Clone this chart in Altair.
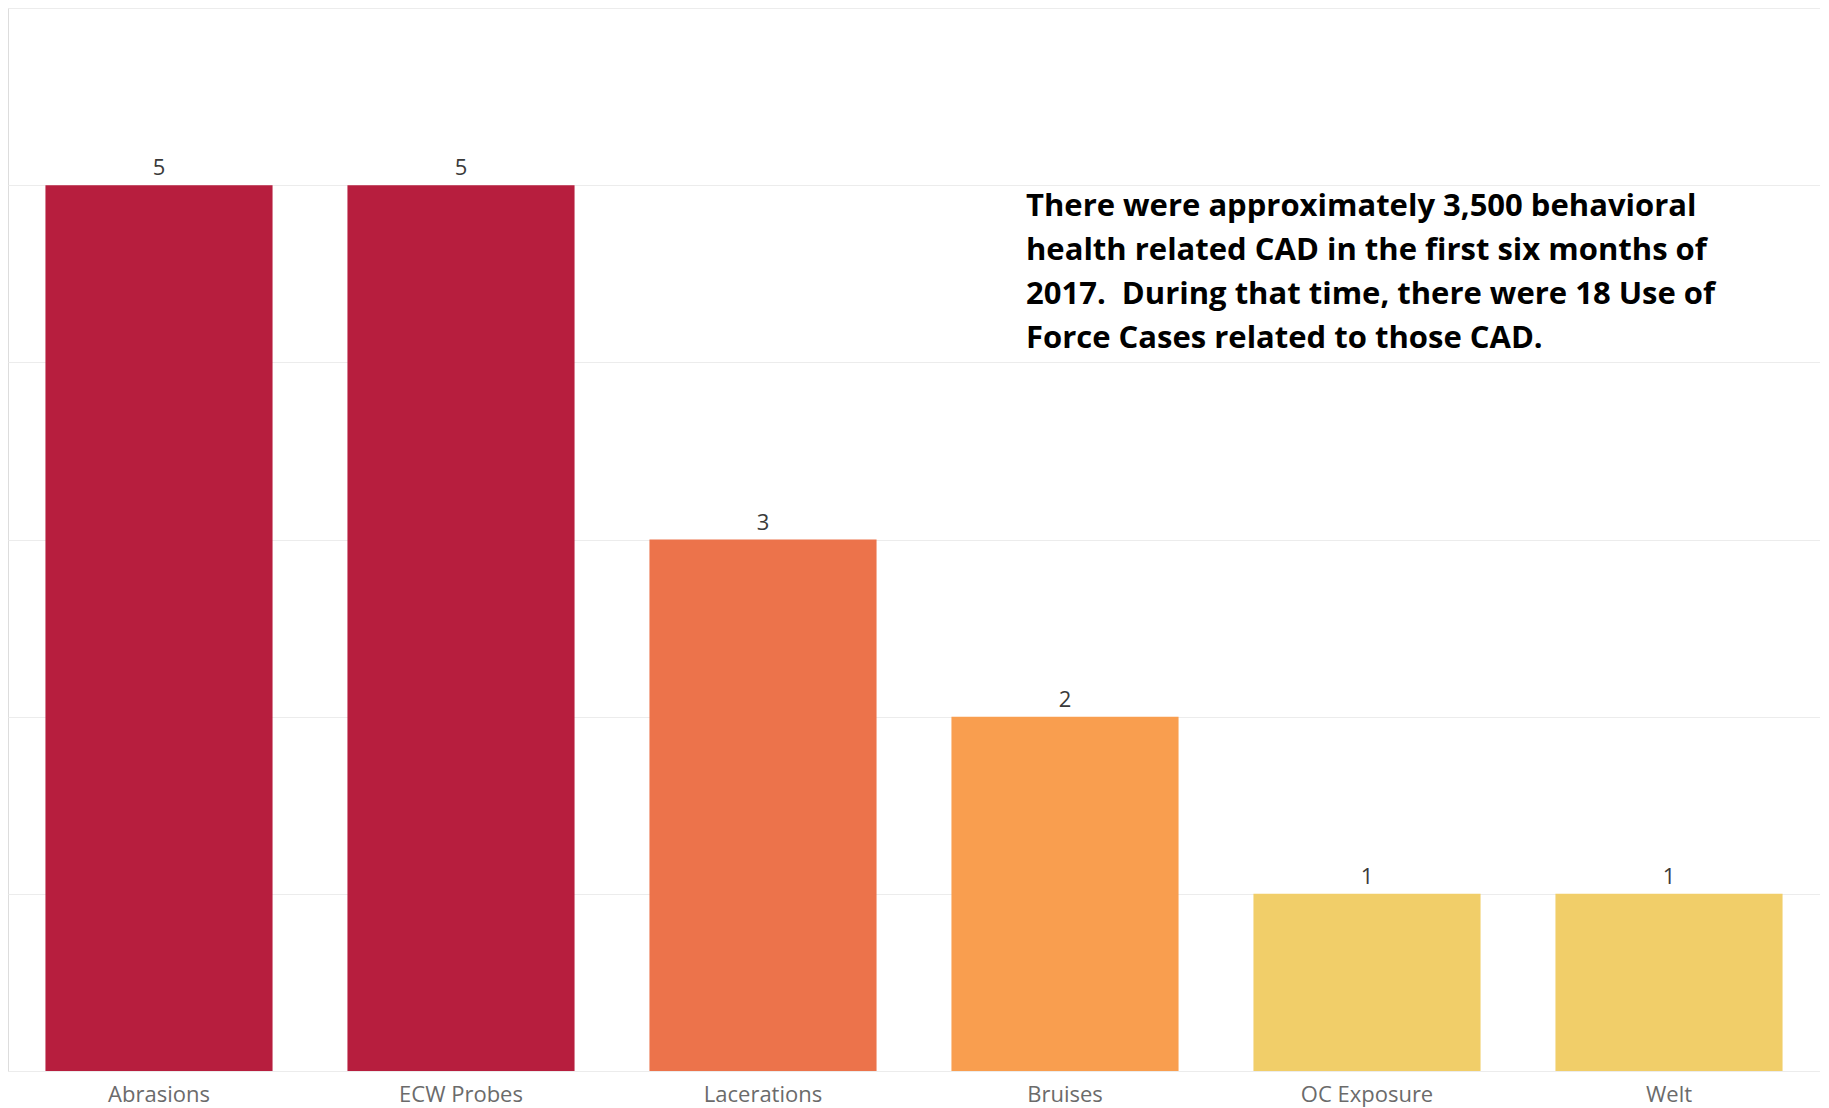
import altair as alt
import pandas as pd

categories = ["Abrasions", "ECW Probes", "Lacerations", "Bruises", "OC Exposure", "Welt"]
counts = [5, 5, 3, 2, 1, 1]
colors = ["#B71E3E", "#B71E3E", "#EC734B", "#F99E4F", "#F1CE69", "#F1CE69"]

note_lines = [
    "There were approximately 3,500 behavioral",
    "health related CAD in the first six months of",
    "2017.\u00a0 During that time, there were 18 Use of",
    "Force Cases related to those CAD.",
]

df = pd.DataFrame({"cat": categories, "n": counts, "col": colors})

x = alt.X("cat:N", sort=categories, title=None,
          scale=alt.Scale(paddingInner=0.248, paddingOuter=0.124),
          axis=alt.Axis(labelAngle=0, labelFont="Open Sans", labelFontSize=22,
                        labelColor="#6b6b6b", labelBaseline="alphabetic",
                        labelPadding=30, ticks=False, domain=False, grid=False))
y = alt.Y("n:Q", title=None, scale=alt.Scale(domain=[0, 6], nice=False),
          axis=alt.Axis(values=[0, 1, 2, 3, 4, 5, 6], labels=False, ticks=False,
                        domain=False, grid=True, gridColor="#ececec", gridWidth=1))

base = alt.Chart(df)
bars = base.mark_bar().encode(x=x, y=y, color=alt.Color("col:N", scale=None, legend=None))
vals = base.mark_text(baseline="alphabetic", dy=-10, font="Open Sans", fontSize=22,
                      color="#3a3a3a").encode(x=x, y=y, text="n:Q")

note = alt.Chart(pd.DataFrame({"t": ["\n".join(note_lines)]})).mark_text(
    align="left", baseline="alphabetic", font="Open Sans", fontWeight="bold", fontSize=31,
    lineHeight=44, color="#000000", lineBreak="\n"
).encode(x=alt.value(1018), y=alt.value(208), text="t:N")

chart = alt.layer(bars, vals, note).properties(
    width=1812, height=1063,
    padding={"left": 0, "top": 0, "right": 0, "bottom": 37},
    autosize=alt.AutoSizeParams(type="none"),
).configure_view(stroke=None).configure(background="white")

chart.save("out.html", embed_options={"renderer": "svg", "actions": False})
